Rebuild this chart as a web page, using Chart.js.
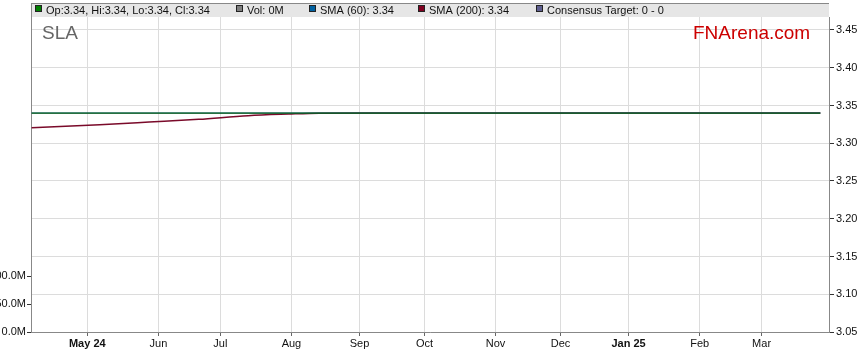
<!DOCTYPE html>
<html>
<head>
<meta charset="utf-8">
<script src="https://cdn.jsdelivr.net/npm/chart.js@4/dist/chart.umd.min.js"></script>
<style>
  html, body { margin: 0; padding: 0; background: #fff; }
</style>
</head>
<body>
<canvas id="chart" width="859" height="363"></canvas>
<script>
// x is a trading-day index (0 = first day shown)
const monthTickIdx = [18, 41, 61, 84, 106, 127, 150, 171, 193, 216, 236];
const monthLabels = ['May 24', 'Jun', 'Jul', 'Aug', 'Sep', 'Oct', 'Nov', 'Dec', 'Jan 25', 'Feb', 'Mar'];
const boldLabels = ['May 24', 'Jan 25'];

const priceTicks = [3.05, 3.10, 3.15, 3.20, 3.25, 3.30, 3.35, 3.40, 3.45];
const volTicks = [0, 50, 100];

const closeIdx = [0, 255];
const closeVals = [3.34, 3.34];
const sma60Idx = [0, 255];
const sma60Vals = [3.34, 3.34];
const sma200Idx = [0, 11, 22, 38, 54, 70, 83, 93, 110, 255];
const sma200Vals = [3.3206, 3.3225, 3.3246, 3.3281, 3.3317, 3.3365, 3.3386, 3.3398, 3.34, 3.34];

const legendItems = [
  { x: 35, color: '#008000', text: 'Op:3.34, Hi:3.34, Lo:3.34, Cl:3.34' },
  { x: 236, color: '#808080', text: 'Vol: 0M' },
  { x: 309, color: '#0060a0', text: 'SMA (60): 3.34' },
  { x: 418, color: '#800020', text: 'SMA (200): 3.34' },
  { x: 536, color: '#606090', text: 'Consensus Target: 0 - 0' }
];

const FONT = '"Liberation Sans", Arial, sans-serif';

const pts = (xs, ys) => xs.map((x, i) => ({ x: x, y: ys[i] }));

const headerPlugin = {
  id: 'header',
  beforeDraw(chart) {
    const ctx = chart.ctx;
    ctx.save();
    ctx.fillStyle = '#fff';
    ctx.fillRect(0, 0, chart.width, chart.height);
    ctx.restore();
  },
  afterDraw(chart) {
    const ctx = chart.ctx;
    const a = chart.chartArea;
    ctx.save();
    ctx.fillStyle = '#e6e6e6';
    ctx.fillRect(a.left, 3, a.right - a.left, a.top - 3);
    ctx.strokeStyle = '#888';
    ctx.lineWidth = 1;
    ctx.beginPath();
    ctx.moveTo(a.left, 3.5);
    ctx.lineTo(a.right, 3.5);
    ctx.moveTo(a.left + 0.5, 3);
    ctx.lineTo(a.left + 0.5, a.top);
    ctx.stroke();

    ctx.font = '11px ' + FONT;
    ctx.textBaseline = 'alphabetic';
    legendItems.forEach(it => {
      ctx.fillStyle = it.color;
      ctx.fillRect(it.x, 5, 7, 7);
      ctx.strokeStyle = '#222';
      ctx.strokeRect(it.x + 0.5, 5.5, 6, 6);
      ctx.fillStyle = '#111';
      ctx.fillText(it.text, it.x + 11, 14);
    });

    ctx.font = '19px ' + FONT;
    ctx.fillStyle = '#666';
    ctx.fillText('SLA', 42, 39);
    ctx.fillStyle = '#cc0000';
    ctx.fillText('FNArena.com', 693, 39);
    ctx.restore();
  }
};

new Chart(document.getElementById('chart'), {
  type: 'line',
  data: {
    datasets: [
      {
        label: 'Close',
        data: pts(closeIdx, closeVals),
        borderColor: '#0d5e12',
        borderWidth: 1.3,
        pointRadius: 0,
        yAxisID: 'y'
      },
      {
        label: 'SMA (60)',
        data: pts(sma60Idx, sma60Vals),
        borderColor: '#0060a0',
        borderWidth: 1,
        pointRadius: 0,
        yAxisID: 'y'
      },
      {
        label: 'SMA (200)',
        data: pts(sma200Idx, sma200Vals),
        borderColor: '#7a0a2a',
        borderWidth: 1.5,
        pointRadius: 0,
        cubicInterpolationMode: 'monotone',
        yAxisID: 'y'
      }
    ]
  },
  options: {
    responsive: false,
    animation: false,
    layout: { padding: { top: 17, left: 0, right: 0, bottom: 0 } },
    plugins: {
      legend: { display: false },
      tooltip: { enabled: false }
    },
    scales: {
      x: {
        type: 'linear',
        position: 'bottom',
        min: -0.2,
        max: 257.8,
        afterBuildTicks: (s) => { s.ticks = monthTickIdx.map(v => ({ value: v })); },
        afterFit: (s) => { s.height = 31; },
        ticks: {
          autoSkip: false,
          maxRotation: 0,
          padding: 1,
          color: '#111',
          callback: (v, i) => monthLabels[i],
          font: (c) => ({
            family: FONT,
            size: 11,
            weight: boldLabels.includes(monthLabels[c.index]) ? 'bold' : 'normal'
          })
        },
        grid: { color: '#dcdcdc', tickColor: '#666', tickLength: 4 },
        border: { color: '#888' }
      },
      y: {
        position: 'right',
        min: 3.05,
        max: 3.4672,
        afterBuildTicks: (s) => { s.ticks = priceTicks.map(v => ({ value: v })); },
        afterFit: (s) => { s.width = 30; },
        ticks: {
          padding: 2,
          color: '#111',
          font: { family: FONT, size: 11 },
          callback: (v) => v.toFixed(2)
        },
        grid: { color: '#dcdcdc', tickColor: '#333', tickLength: 5 },
        border: { color: '#888' }
      },
      yVol: {
        position: 'left',
        min: 0,
        max: 562.5,
        afterBuildTicks: (s) => { s.ticks = volTicks.map(v => ({ value: v })); },
        afterFit: (s) => { s.width = 31; },
        ticks: {
          padding: 1,
          color: '#111',
          font: { family: FONT, size: 11 },
          callback: (v) => v.toFixed(1) + 'M'
        },
        grid: { drawOnChartArea: false, tickColor: '#333', tickLength: 4 },
        border: { color: '#888' }
      }
    }
  },
  plugins: [headerPlugin]
});
</script>
</body>
</html>
